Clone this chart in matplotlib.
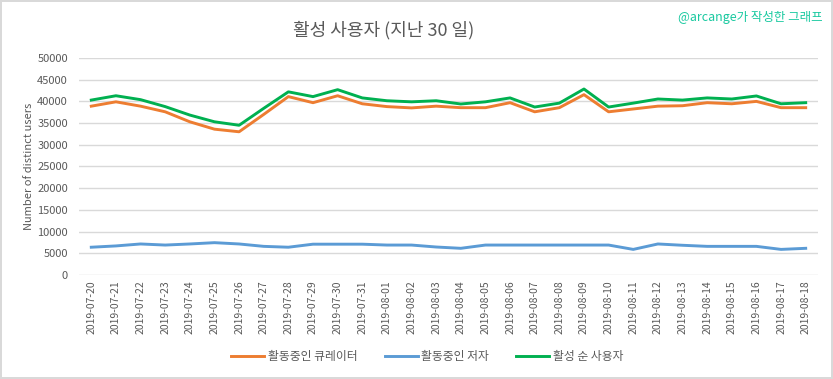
import matplotlib
matplotlib.use("Agg")
import matplotlib.pyplot as plt
import pandas as pd

plt.rcParams['font.family'] = ['Noto Sans CJK KR', 'DejaVu Sans']

dates = pd.date_range("2019-07-20", "2019-08-18").strftime("%Y-%m-%d").tolist()

curators = [38900, 39900, 38900, 37600, 35300, 33600, 33000, 37000, 41100, 39700,
            41300, 39450, 38800, 38500, 38900, 38550, 38550, 39700, 37600, 38550,
            41550, 37600, 38250, 38900, 39000, 39700, 39450, 40000, 38550, 38550]
authors = [6400, 6700, 7150, 6900, 7150, 7450, 7150, 6600, 6400, 7100,
           7100, 7100, 6900, 6900, 6450, 6150, 6900, 6900, 6900, 6900,
           6900, 6900, 5900, 7150, 6850, 6600, 6600, 6600, 5900, 6150]
unique_users = [40300, 41300, 40400, 38800, 36850, 35300, 34500, 38400, 42200, 41100,
                42700, 40800, 40150, 39900, 40150, 39400, 39900, 40800, 38700, 39600,
                42850, 38700, 39600, 40550, 40300, 40800, 40550, 41250, 39450, 39700]

series_names = ["활동중인 큐레이터", "활동중인 저자", "활성 순 사용자"]
series_colors = ["#ED7D31", "#5B9BD5", "#00B050"]

fig = plt.figure(figsize=(8.33, 3.79), dpi=100)
fig.patch.set_edgecolor("#d9d9d9")
fig.patch.set_linewidth(1.5)
ax = fig.add_axes([0.0948, 0.2744, 0.8872, 0.5726])

x = range(len(dates))
for vals, name, col in zip([curators, authors, unique_users], series_names, series_colors):
    ax.plot(x, vals, color=col, lw=2.1, label=name)

ax.set_xlim(-0.5, len(dates) - 0.5)
ax.set_ylim(0, 50000)
ax.set_yticks(range(0, 50001, 5000))
ax.set_xticks(list(x))
ax.set_xticklabels(dates, rotation=90, fontsize=7.5, color="#595959")
ax.tick_params(axis='y', labelsize=8, colors="#595959", length=0, pad=8)
ax.tick_params(axis='x', length=0, pad=4)
ax.grid(axis='y', color="#d9d9d9", lw=1)
ax.set_axisbelow(True)
for s in ax.spines.values():
    s.set_visible(False)

ax.set_ylabel("Number of distinct users", fontsize=8, color="#595959", labelpad=2)

fig.text(0.461, 0.92, "활성 사용자 (지난 30 일)", ha='center', va='center',
         fontsize=13, color="#595959")
fig.text(0.987, 0.955, "@arcange가 작성한 그래프", ha='right', va='center',
         fontsize=9, color="#19c9a0")

fig.legend(loc='center', bbox_to_anchor=(0.513, 0.06), ncol=3, frameon=False,
           fontsize=8.5, labelcolor="#595959", handlelength=2.8, columnspacing=2.3,
           handletextpad=0.3)

fig.savefig("out.png", dpi=100)
